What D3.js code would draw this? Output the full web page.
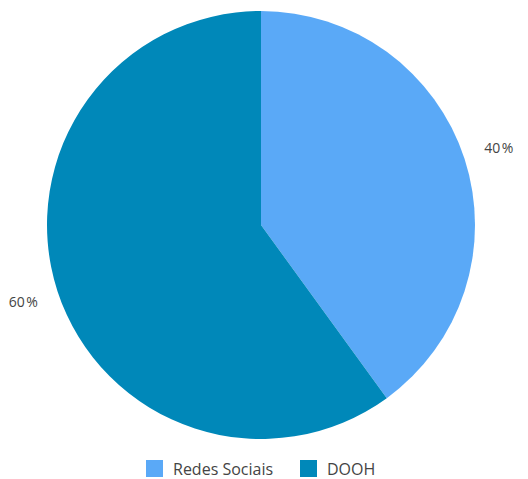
<!DOCTYPE html>
<html>
<head>
<meta charset="utf-8">
<script src="https://cdn.jsdelivr.net/npm/d3@7"></script>
<style>
  body { margin: 0; background: #fff; }
  svg { display: block; font-family: "Open Sans", Lato, sans-serif; }
</style>
</head>
<body>
<svg id="chart"></svg>
<script>
// data
const categories = ["Redes Sociais", "DOOH"];
const values = [40, 60];
const colors = ["#5aa9f7", "#0088b9"];

const width = 528, height = 479;
const cx = 261, cy = 225, radius = 214;

const svg = d3.select("#chart").attr("width", width).attr("height", height);

const color = d3.scaleOrdinal().domain(categories).range(colors);

const pie = d3.pie().sort(null).value((d) => d.value);
const arcs = pie(categories.map((c, i) => ({ name: c, value: values[i] })));

const arc = d3.arc().innerRadius(0).outerRadius(radius);
const labelArc = d3.arc().innerRadius(250).outerRadius(250);

const g = svg.append("g").attr("transform", `translate(${cx},${cy})`);

g.selectAll("path")
  .data(arcs)
  .join("path")
  .attr("d", arc)
  .attr("fill", (d) => color(d.data.name));

const total = d3.sum(values);
g.selectAll("text")
  .data(arcs)
  .join("text")
  .attr("transform", (d) => `translate(${labelArc.centroid(d)})`)
  .attr("text-anchor", "middle")
  .attr("dy", "0.35em")
  .attr("font-size", 14)
  .attr("fill", "#444")
  .text((d) => Math.round((d.data.value / total) * 100) + "\u200A%");

// legend
const legend = svg.append("g").attr("transform", "translate(146,460)");
const offsets = [0, 154];
const item = legend.selectAll("g")
  .data(categories)
  .join("g")
  .attr("transform", (d, i) => `translate(${offsets[i]},0)`);

item.append("rect")
  .attr("width", 17)
  .attr("height", 17)
  .attr("fill", (d) => color(d));

item.append("text")
  .attr("x", 27)
  .attr("y", 9)
  .attr("dy", "0.35em")
  .attr("font-size", 16)
  .attr("fill", "#444")
  .text((d) => d);
</script>
</body>
</html>
